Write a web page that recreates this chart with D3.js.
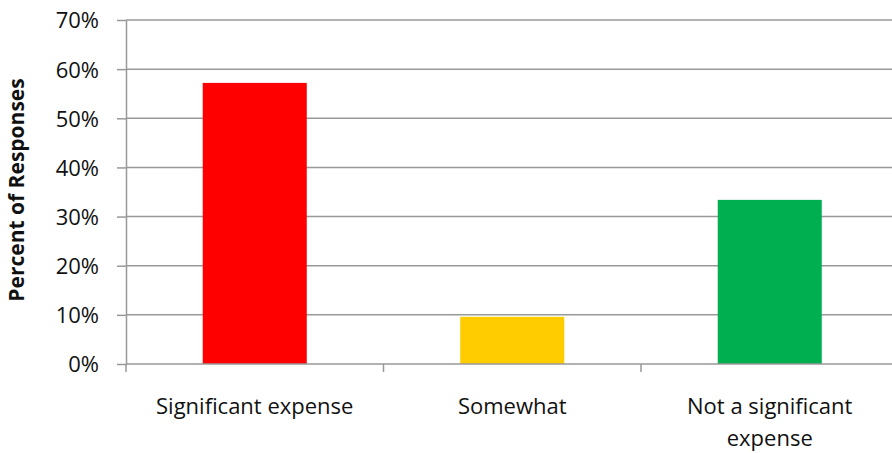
<!DOCTYPE html>
<html>
<head>
<meta charset="utf-8">
<script src="https://cdn.jsdelivr.net/npm/d3@7"></script>
<style>
  html, body { margin: 0; padding: 0; background: #fff; }
  svg { display: block; }
  svg text { font-family: "Open Sans", "Noto Sans", sans-serif; }
</style>
</head>
<body>
<svg id="chart" width="892" height="453"></svg>
<script>
// Survey responses: how much of an expense is it?
const categories = ["Significant expense", "Somewhat", "Not a significant expense"];
const values = [0.572, 0.096, 0.334];
const barColors = ["#ff0000", "#ffcc00", "#00b050"];
const yTicks = [0, 0.1, 0.2, 0.3, 0.4, 0.5, 0.6, 0.7];
const yTitle = "Percent of Responses";

const svg = d3.select("#chart");
const W = 892, H = 453;
const margin = { top: 20, left: 126, bottom: 89 };
const plotRight = 898.5;
const y0 = H - margin.bottom;
const fontFamily = "'Open Sans', 'Noto Sans', sans-serif";

const x = d3.scaleBand()
  .domain(categories)
  .range([margin.left, plotRight])
  .paddingInner(0.596)
  .paddingOuter(0.298);

const y = d3.scaleLinear()
  .domain([0, 0.7])
  .range([y0, margin.top]);

const gridColor = "#999";

// horizontal gridlines
svg.append("g")
  .selectAll("line")
  .data(yTicks.filter(d => d > 0))
  .join("line")
  .attr("x1", margin.left).attr("x2", W)
  .attr("y1", d => y(d)).attr("y2", d => y(d))
  .attr("stroke", gridColor)
  .attr("stroke-width", 1.5);

// bars
svg.append("g")
  .selectAll("rect")
  .data(categories)
  .join("rect")
  .attr("x", d => x(d))
  .attr("width", x.bandwidth())
  .attr("y", (d, i) => y(values[i]))
  .attr("height", (d, i) => y0 - y(values[i]))
  .attr("fill", (d, i) => barColors[i]);

// y axis
const yAxis = svg.append("g")
  .attr("transform", `translate(${margin.left},0)`)
  .call(d3.axisLeft(y).tickValues(yTicks).tickFormat(d3.format(".0%")).tickSize(9).tickSizeOuter(0).tickPadding(18));
yAxis.attr("font-family", fontFamily).attr("font-size", 22);
yAxis.select(".domain").attr("stroke", gridColor).attr("stroke-width", 1.5);
yAxis.selectAll(".tick line").attr("stroke", gridColor).attr("stroke-width", 1.5);
yAxis.selectAll(".tick text")
  .attr("fill", "#111")
  .attr("dy", "0.36em");

// x axis baseline and category boundary ticks
const step = x.step();
const boundaries = d3.range(categories.length + 1).map(i => margin.left + i * step);
svg.append("line")
  .attr("x1", margin.left).attr("x2", W)
  .attr("y1", y0).attr("y2", y0)
  .attr("stroke", gridColor).attr("stroke-width", 1.5);
svg.append("g")
  .selectAll("line")
  .data(boundaries)
  .join("line")
  .attr("x1", d => d).attr("x2", d => d)
  .attr("y1", y0).attr("y2", y0 + 8)
  .attr("stroke", gridColor).attr("stroke-width", 1.5);

// category labels, wrapped to the band width
const labelG = svg.append("g");
categories.forEach(c => {
  const cx = x(c) + x.bandwidth() / 2;
  const t = labelG.append("text")
    .attr("x", cx).attr("y", y0 + 50)
    .attr("text-anchor", "middle")
    .attr("fill", "#111")
    .style("font-size", "22px");
  const words = c.split(" ");
  let line = [];
  let tspan = t.append("tspan").attr("x", cx).attr("dy", 0);
  words.forEach(w => {
    line.push(w);
    tspan.text(line.join(" "));
    if (tspan.node().getComputedTextLength() > step - 20 && line.length > 1) {
      line.pop();
      tspan.text(line.join(" "));
      line = [w];
      tspan = t.append("tspan").attr("x", cx).attr("dy", 32).text(w);
    }
  });
});

// y axis title
svg.append("text")
  .attr("transform", `translate(24,190) rotate(-90)`)
  .attr("text-anchor", "middle")
  .attr("fill", "#111")
  .style("font-size", "21px")
  .style("font-weight", "bold")
  .text(yTitle);
</script>
</body>
</html>
